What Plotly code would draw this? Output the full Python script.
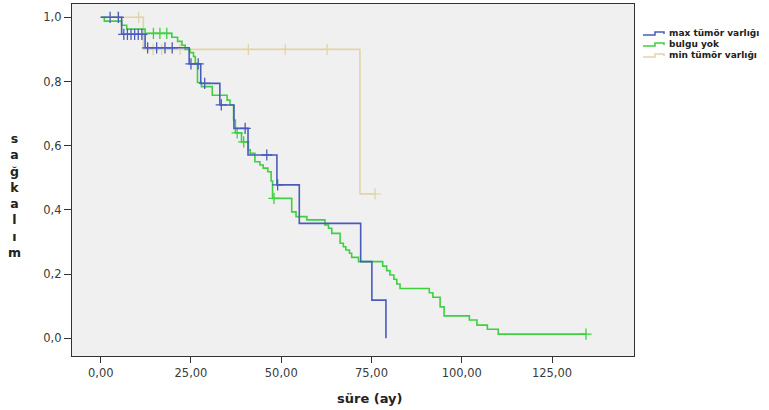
import plotly.graph_objects as go

# ---------------- data ----------------
groups = ["max tümör varlığı", "bulgu yok", "min tümör varlığı"]

# max tümör varlığı (blue)
blue_times = [0, 5.8, 12.3, 24.5, 27.7, 33.0, 36.9, 40.8, 48.8, 55.0, 72.0, 75.1, 79.0]
blue_surv = [1.0, 0.947, 0.905, 0.855, 0.794, 0.727, 0.654, 0.571, 0.478, 0.358, 0.239, 0.119, 0.0]
blue_censor = [2.6, 4.9, 6.4, 7.4, 8.4, 9.4, 10.4, 11.4, 13.0, 15.5, 17.8, 19.8,
               25.0, 27.0, 28.8, 33.4, 40.0, 46.0, 49.0]

# bulgu yok (green)
green_times = [0, 1.0, 5.8, 7.2, 12.3, 19.7, 21.3, 22.5, 23.4, 24.7, 25.7, 26.2, 26.8,
               27.9, 30.9, 35.0, 35.8, 36.8, 37.3, 39.0, 40.9, 41.4, 42.7, 44.1, 45.0,
               46.3, 47.2, 47.6, 52.9, 54.1, 57.1, 62.1, 63.1, 64.0, 66.3, 67.2, 67.9,
               68.9, 69.5, 71.4, 78.1, 79.2, 80.1, 81.2, 82.0, 82.9, 91.0, 92.0, 94.0,
               95.1, 102.1, 104.2, 107.1, 110.1, 134.4]
green_surv = [1.0, 0.988, 0.975, 0.963, 0.950, 0.938, 0.925, 0.913, 0.900, 0.890, 0.878,
              0.857, 0.797, 0.784, 0.757, 0.742, 0.727, 0.680, 0.640, 0.612, 0.587, 0.576,
              0.550, 0.540, 0.530, 0.519, 0.490, 0.436, 0.394, 0.379, 0.369, 0.353, 0.343,
              0.327, 0.296, 0.285, 0.275, 0.265, 0.252, 0.239, 0.225, 0.211, 0.197, 0.184,
              0.169, 0.155, 0.142, 0.128, 0.098, 0.070, 0.057, 0.041, 0.028, 0.013, 0.013]
green_censor = [14.6, 16.4, 18.3, 37.8, 39.6, 48.0, 134.4]

# min tümör varlığı (beige)
beige_times = [0, 11.8, 71.8, 76.0]
beige_surv = [1.0, 0.90, 0.45, 0.45]
beige_censor = [4.7, 10.5, 14.5, 16.9, 22.0, 40.9, 51.1, 62.7, 76.0]

x_ticks = [0, 25, 50, 75, 100, 125]
y_ticks = [0.0, 0.2, 0.4, 0.6, 0.8, 1.0]

colors = ["#4a5cbb", "#3fd03f", "#e3d4a6"]

# ---------------- layout geometry (pixels) ----------------
W, H = 769, 410
ML, MR, MT, MB = 72, 135, 4, 54
PW, PH = W - ML - MR, H - MT - MB


def px_to_paper(px, py):
    return (px - ML) / PW, 1 - (py - MT) / PH


def surv_at(times, surv, t):
    s = surv[0]
    for ti, si in zip(times, surv):
        if ti <= t:
            s = si
        else:
            break
    return s


fig = go.Figure()
series = [
    (groups[2], beige_times, beige_surv, beige_censor, colors[2]),
    (groups[1], green_times, green_surv, green_censor, colors[1]),
    (groups[0], blue_times, blue_surv, blue_censor, colors[0]),
]
for name, t, s, c, col in series:
    fig.add_trace(go.Scatter(
        x=t, y=s, mode="lines", line=dict(color=col, width=1.6, shape="hv"),
        name=name, showlegend=False))
    fig.add_trace(go.Scatter(
        x=c, y=[surv_at(t, s, ci) for ci in c], mode="markers",
        marker=dict(symbol="cross-thin", size=8, line=dict(color=col, width=1.3)),
        name=name, showlegend=False, hoverinfo="skip"))

tick_font = "DejaVu Sans, Verdana, sans-serif"
title_font = "DejaVu Sans, Verdana, sans-serif"

fig.update_layout(
    width=W, height=H,
    margin=dict(l=ML, r=MR, t=MT, b=MB, autoexpand=False),
    paper_bgcolor="white", plot_bgcolor="#f0f0f0",
    separators=",.",
    font=dict(family=tick_font, size=11, color="#333333"),
    showlegend=False,
)
fig.update_xaxes(
    range=[-7.95, 147.7], tickvals=x_ticks, tickformat=".2f",
    ticks="outside", ticklen=6, tickcolor="#333333", tickwidth=1,
    showline=True, linecolor="#333333", linewidth=1.2, mirror=True,
    showgrid=False, zeroline=False,
    tickfont=dict(family=tick_font, size=11.5, color="#3a3a3a"),
)
fig.update_yaxes(
    range=[-0.0551, 1.0414], tickvals=y_ticks, tickformat=".1f",
    ticks="outside", ticklen=7, tickcolor="#333333", tickwidth=1,
    showline=True, linecolor="#333333", linewidth=1.2, mirror=True,
    showgrid=False, zeroline=False,
    tickfont=dict(family=tick_font, size=11.5, color="#3a3a3a"),
)

# axis titles
xt, yt = px_to_paper(369, 398)
fig.add_annotation(text="<b>süre (ay)</b>", xref="paper", yref="paper", x=xt, y=yt,
                   xanchor="center", yanchor="middle", showarrow=False,
                   font=dict(family=title_font, size=13, color="#222222"))
ytx, yty = px_to_paper(14, 195)
fig.add_annotation(text="<b>s<br>a<br>ğ<br>k<br>a<br>l<br>ı<br>m</b>",
                   xref="paper", yref="paper", x=ytx, y=yty,
                   xanchor="center", yanchor="middle", showarrow=False, align="center",
                   font=dict(family=title_font, size=12.5, color="#222222"))

# legend (drawn manually to match the compact SPSS legend)
legend_rows = [33, 44, 55]
for name, col, ry in zip(groups, colors, legend_rows):
    pts = [(643, ry + 2), (655, ry + 2), (655, ry - 1), (664, ry - 1), (664, ry + 1)]
    pp = [px_to_paper(a, b) for a, b in pts]
    path = "M " + " L ".join(f"{a:.5f},{b:.5f}" for a, b in pp)
    fig.add_shape(type="path", path=path, xref="paper", yref="paper",
                  line=dict(color=col, width=1.5))
    tx, ty = px_to_paper(668, ry)
    fig.add_annotation(text=f"<b>{name}</b>", xref="paper", yref="paper", x=tx, y=ty,
                       xanchor="left", yanchor="middle", showarrow=False, borderpad=0,
                       font=dict(family=title_font, size=9, color="#222222"))

fig.write_html("out.html", config={"displayModeBar": False},
               post_script="document.body.style.margin='0';document.body.style.overflow='hidden';")
